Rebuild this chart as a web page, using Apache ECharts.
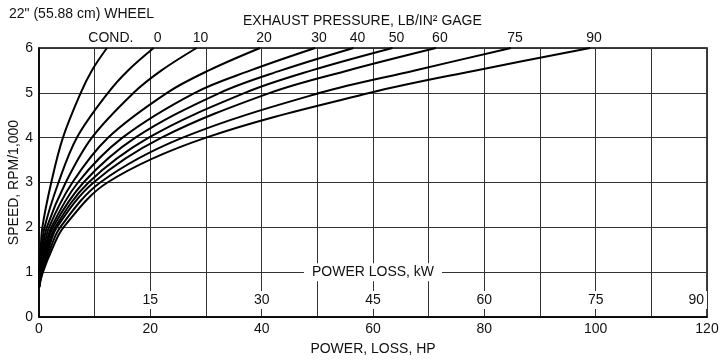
<!DOCTYPE html>
<html>
<head>
<meta charset="utf-8">
<script src="https://cdn.jsdelivr.net/npm/echarts@6/dist/echarts.min.js"></script>
<style>
  html, body { margin: 0; background: #fff; }
  #chart { width: 720px; height: 360px; }
</style>
</head>
<body>
<div id="chart"></div>
<script>
// speed (rpm/1,000) levels at which each curve was read
var speedLevels = [0.65, 1, 1.5, 2, 3, 4, 5, 5.5, 6];
var pressureNames = ['COND.', '0', '10', '20', '30', '40', '50', '60', '75', '90'];

// power loss (hp) at each speed level, one list per exhaust pressure
var lossCond = [0, 0.08, 0.3, 0.6, 2.2, 4.3, 7.5, 9.5, 12.2];
var loss0 = [0, 0.12, 0.45, 1.0, 3.5, 6.8, 12.4, 16, 20.6];
var loss10 = [0, 0.17, 0.65, 1.4, 4.8, 9.5, 17, 22, 28.3];
var loss20 = [0, 0.22, 0.85, 1.8, 6.0, 12.4, 23, 30.5, 39.7];
var loss30 = [0, 0.28, 1.05, 2.2, 7.0, 15.0, 28, 38, 49.6];
var loss40 = [0, 0.33, 1.25, 2.5, 8.0, 17.3, 32.5, 43.5, 56.5];
var loss50 = [0, 0.38, 1.45, 2.9, 8.9, 19.7, 37, 49, 63.5];
var loss60 = [0, 0.44, 1.65, 3.2, 9.8, 22.0, 41.5, 55.5, 71.3];
var loss75 = [0, 0.55, 1.95, 3.8, 11.0, 25.8, 50.5, 67.5, 84.8];
var loss90 = [0, 0.7, 2.3, 4.4, 12.3, 30.0, 59.5, 78.5, 99];

var lossCurves = [lossCond, loss0, loss10, loss20, loss30, loss40, loss50, loss60, loss75, loss90];

// kW scale printed inside the plot
var kwTicks = [15, 30, 45, 60, 75, 90];

var FONT = '"Liberation Sans", Arial, sans-serif';
var INK = '#111';

var series = lossCurves.map(function (loss, i) {
  var data = loss.map(function (x, k) {
    var pt = { value: [x, speedLevels[k]] };
    if (k === loss.length - 1) {
      pt.label = {
        show: true,
        position: 'top',
        distance: 2,
        offset: [4, 0],
        formatter: pressureNames[i],
        fontFamily: FONT,
        fontSize: 14,
        color: INK
      };
    }
    return pt;
  });
  return {
    name: pressureNames[i],
    type: 'line',
    data: data,
    smooth: 0.35,
    showSymbol: true,
    symbol: 'circle',
    symbolSize: 1,
    itemStyle: { color: 'transparent' },
    label: { show: false },
    clip: false,
    lineStyle: { color: '#000', width: 2 },
    z: 3
  };
});

var myChart = echarts.init(document.getElementById('chart'), null, { renderer: 'canvas' });

myChart.setOption({
  animation: false,
  backgroundColor: '#fff',
  textStyle: { fontFamily: FONT },
  title: [
    {
      text: '22" (55.88 cm) WHEEL',
      left: 4, top: 2,
      textStyle: { fontFamily: FONT, fontSize: 14, fontWeight: 'normal', color: INK }
    },
    {
      text: 'EXHAUST PRESSURE, LB/IN² GAGE',
      left: 238, top: 9,
      textStyle: { fontFamily: FONT, fontSize: 14, fontWeight: 'normal', color: INK }
    }
  ],
  grid: {
    left: 39, right: 13, top: 48, bottom: 43,
    outerBoundsMode: 'none',
    show: true, borderColor: '#000', borderWidth: 1.5, backgroundColor: 'transparent'
  },
  xAxis: [
    {
      type: 'value', min: 0, max: 120, interval: 10,
      name: 'POWER, LOSS, HP', nameLocation: 'middle', nameGap: 25,
      nameTextStyle: { fontFamily: FONT, fontSize: 14, color: INK },
      axisLine: { lineStyle: { color: '#000', width: 1.5 } },
      axisTick: { show: false },
      axisLabel: {
        margin: 5, fontFamily: FONT, fontSize: 14, color: INK,
        formatter: function (v) { return v % 20 === 0 ? String(v) : ''; }
      },
      splitLine: { lineStyle: { color: '#333', width: 1 } }
    },
    {
      type: 'value', min: 0, max: 90, interval: 15,
      position: 'bottom', offset: -26,
      axisLine: { show: false },
      axisTick: { show: false },
      splitLine: { show: false },
      axisLabel: {
        margin: 0, showMinLabel: false, alignMaxLabel: 'right',
        fontFamily: FONT, fontSize: 14, color: INK,
        backgroundColor: '#fff', padding: [2, 3]
      }
    }
  ],
  yAxis: {
    type: 'value', min: 0, max: 6, interval: 1,
    name: 'SPEED, RPM/1,000', nameLocation: 'middle', nameGap: 18,
    nameMoveOverlap: false,
    nameTextStyle: { fontFamily: FONT, fontSize: 14, color: INK },
    axisLine: { show: true, lineStyle: { color: '#000', width: 1.5 } },
    axisTick: { show: false },
    axisLabel: { margin: 6, fontFamily: FONT, fontSize: 14, color: INK },
    splitLine: { lineStyle: { color: '#333', width: 1 } }
  },
  series: series
});

// "POWER LOSS, kW" caption sits on the 1,000 rpm grid line
var capPos = myChart.convertToPixel({ gridIndex: 0 }, [60, 1]);
myChart.setOption({
  graphic: [{
    type: 'text',
    x: capPos[0], y: capPos[1],
    z: 10,
    style: {
      text: 'POWER LOSS, kW',
      fontFamily: FONT, fontSize: 14, fill: INK,
      align: 'center', verticalAlign: 'middle',
      backgroundColor: '#fff', padding: [2, 8]
    }
  }]
});
</script>
</body>
</html>
